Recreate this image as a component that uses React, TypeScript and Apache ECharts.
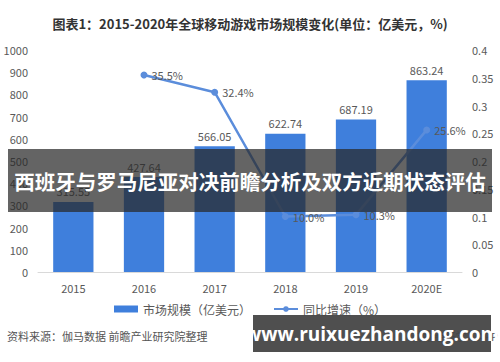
import React, { useEffect, useRef } from "react";
import * as echarts from "echarts";

const categories = ["2015", "2016", "2017", "2018", "2019", "2020E"];
const marketSize = [315.55, 427.64, 566.05, 622.74, 687.19, 863.24];
const growthRate: (number | null)[] = [null, 0.355, 0.324, 0.1, 0.103, 0.256];
const growthLabels = ["", "35.5%", "32.4%", "10.0%", "10.3%", "25.6%"];
const titleText = "图表1：2015-2020年全球移动游戏市场规模变化(单位：亿美元，%)";
const barName = "市场规模（亿美元）";
const lineName = "同比增速（%）";
const sourceText = "资料来源：伽马数据 前瞻产业研究院整理";
const appText = "前瞻经济学人APP";
const bannerText = "西班牙与罗马尼亚对决前瞻分析及双方近期状态评估";
const siteText = "www.ruixuezhandong.com";

const FONT = "'Noto Sans CJK SC', 'Noto Sans', sans-serif";

export default function App() {
  const ref = useRef<HTMLDivElement>(null);
  useEffect(() => {
    if (!ref.current) return;
    const chart = echarts.init(ref.current, undefined, { renderer: "svg" });
    chart.setOption({
      animation: false,
      backgroundColor: "#ffffff",
      textStyle: { fontFamily: FONT },
      title: {
        text: titleText,
        left: "center",
        top: 12,
        textStyle: { fontSize: 13, fontWeight: "bold", color: "#333", fontFamily: FONT },
      },
      grid: { left: 38, right: 38, top: 50, bottom: 90 },
      legend: {
        bottom: 42,
        left: "center",
        itemGap: 22,
        itemWidth: 24,
        itemHeight: 7,
        textStyle: { fontSize: 12, color: "#595959", fontFamily: FONT },
        data: [
          { name: barName, icon: "rect" },
          { name: lineName },
        ],
      },
      xAxis: {
        type: "category",
        data: categories,
        axisLine: { lineStyle: { color: "#d9d9d9" } },
        axisTick: { show: false },
        axisLabel: { color: "#595959", fontSize: 11, margin: 10 },
      },
      yAxis: [
        {
          type: "value",
          min: 0,
          max: 1000,
          interval: 100,
          splitLine: { show: false },
          axisLine: { show: false },
          axisTick: { show: false },
          axisLabel: {
            color: "#595959",
            fontSize: 11,
            margin: 10,
            formatter: (v: number) => String(v),
          },
        },
        {
          type: "value",
          min: 0,
          max: 0.4,
          interval: 0.05,
          splitLine: { show: false },
          axisLine: { show: false },
          axisTick: { show: false },
          axisLabel: {
            color: "#595959",
            fontSize: 11,
            margin: 10,
            formatter: (v: number) => String(Math.round(v * 100) / 100),
          },
        },
      ],
      series: [
        {
          name: barName,
          type: "bar",
          data: marketSize,
          barWidth: "57%",
          itemStyle: { color: "#3f7fdc" },
          label: {
            show: true,
            position: "top",
            color: "#595959",
            fontSize: 11,
            formatter: (p: any) => p.value.toFixed(2),
          },
        },
        {
          name: lineName,
          type: "line",
          yAxisIndex: 1,
          data: growthRate,
          symbol: "circle",
          symbolSize: 7,
          lineStyle: { color: "#5b8ddb", width: 2.5 },
          itemStyle: { color: "#5b8ddb" },
          label: {
            show: true,
            position: "right",
            distance: 4,
            color: "#595959",
            fontSize: 11,
            formatter: (p: any) => growthLabels[p.dataIndex],
          },
        },
      ],
      graphic: [
        {
          type: "text",
          left: 7,
          top: 330,
          style: { text: sourceText, fontSize: 11, fill: "#555", fontFamily: FONT },
        },
        {
          type: "text",
          right: 2,
          top: 330,
          style: { text: appText, fontSize: 11, fill: "#555", fontFamily: FONT },
        },
        {
          type: "rect",
          z: 100,
          shape: { x: 8, y: 149, width: 484, height: 63 },
          style: { fill: "rgba(40,40,40,0.72)" },
        },
        {
          type: "text",
          z: 101,
          x: 250,
          y: 181,
          style: {
            text: bannerText,
            fontSize: 20.5,
            fontWeight: "bold",
            fill: "#ffffff",
            align: "center",
            verticalAlign: "middle",
            fontFamily: FONT,
          },
        },
        {
          type: "rect",
          z: 100,
          shape: { x: 253, y: 315, width: 238, height: 37 },
          style: { fill: "rgba(70,70,70,0.95)" },
        },
        {
          type: "text",
          z: 101,
          x: 372,
          y: 334,
          style: {
            text: siteText,
            fontSize: 19,
            fontWeight: "bold",
            fill: "#ffffff",
            align: "center",
            verticalAlign: "middle",
            fontFamily: "'Open Sans', 'DejaVu Sans', sans-serif",
          },
        },
      ],
    });
    return () => chart.dispose();
  }, []);
  return <div ref={ref} style={{ width: 500, height: 362, position: "fixed", left: 0, top: 0 }} />;
}
